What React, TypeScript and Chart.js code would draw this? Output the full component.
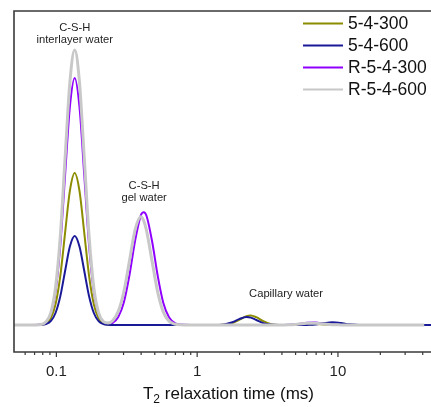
import React, { useEffect, useRef } from "react";
import { Chart, registerables } from "chart.js";

Chart.register(...registerables);

// T2 relaxation time grid (ms)
const T2_MS = [
  0.05, 0.065, 0.078, 0.0843, 0.0912, 0.0986, 0.1067, 0.1153, 0.1247, 0.1349,
  0.1459, 0.1578, 0.1706, 0.1845, 0.1995, 0.2158, 0.2333, 0.251, 0.275, 0.302,
  0.331, 0.363, 0.398, 0.417, 0.437, 0.479, 0.525, 0.575, 0.631, 0.692,
  0.759, 0.9, 1.1, 1.41, 1.58, 1.78, 2.0, 2.24, 2.4, 2.63,
  2.95, 3.31, 3.8, 4.47, 5.25, 6.03, 6.92, 7.94, 9.12, 10.5,
  12.0, 14.1, 16.6, 25, 41, 46,
];

const SERIES_LABELS = ["5-4-300", "5-4-600", "R-5-4-300", "R-5-4-600"];
const SERIES_COLORS = ["#8c8c00", "#1a1a99", "#9000ff", "#c8c8c8"];

const AMP_5_4_300 = [
  0, 0, 0.03, 0.17, 0.67, 2.06, 4.94, 9.22, 13.41, 15.2,
  13.41, 9.22, 4.94, 2.06, 0.67, 0.17, 0.03, 0, 0, 0,
  0, 0, 0, 0, 0, 0, 0, 0, 0, 0,
  0, 0, 0, 0.01, 0.04, 0.19, 0.53, 0.89, 0.95, 0.78,
  0.39, 0.11, 0.01, 0, 0.01, 0.05, 0.09, 0.06, 0.02, 0,
  0, 0, 0, 0, 0, 0,
];

const AMP_5_4_600 = [
  0, 0, 0.02, 0.1, 0.39, 1.2, 2.89, 5.4, 7.85, 8.9,
  7.85, 5.4, 2.89, 1.2, 0.39, 0.1, 0.02, 0, 0, 0,
  0, 0, 0, 0, 0, 0, 0, 0, 0, 0,
  0, 0, 0, 0.01, 0.08, 0.28, 0.61, 0.8, 0.74, 0.5,
  0.19, 0.04, 0, 0, 0, 0.01, 0.05, 0.18, 0.27, 0.2,
  0.07, 0.01, 0, 0, 0, 0,
];

const AMP_R_5_4_300 = [
  0, 0, 0.05, 0.27, 1.08, 3.34, 8.02, 14.98, 21.8, 24.7,
  21.8, 14.98, 8.02, 3.34, 1.08, 0.28, 0.11, 0.22, 0.81, 2.31,
  5.05, 8.49, 10.97, 11.27, 10.9, 8.32, 4.89, 2.2, 0.77, 0.2,
  0.04, 0, 0, 0, 0, 0, 0, 0, 0, 0,
  0, 0, 0, 0.03, 0.11, 0.22, 0.24, 0.15, 0.05, 0.01,
  0, 0, 0, 0, 0, 0,
];

const AMP_R_5_4_600 = [
  0, 0, 0.06, 0.31, 1.21, 3.72, 8.93, 16.68, 24.27, 27.5,
  24.27, 16.68, 8.93, 3.72, 1.21, 0.34, 0.2, 0.43, 1.36, 3.38,
  6.48, 9.56, 10.83, 10.44, 9.43, 6.32, 3.25, 1.29, 0.39, 0.09,
  0.02, 0, 0, 0, 0, 0, 0, 0, 0, 0,
  0, 0, 0, 0.02, 0.09, 0.17, 0.17, 0.1, 0.03, 0.01,
  0, 0, 0, 0, 0, null,
];

const X_TICKS = [0.1, 1, 10];
const X_MINOR_TICKS = [
  0.06, 0.07, 0.08, 0.09, 0.2, 0.3, 0.4, 0.5, 0.6, 0.7, 0.8, 0.9,
  2, 3, 4, 5, 6, 7, 8, 9, 20, 30, 40,
];

const X_TITLE_MAIN = "T";
const X_TITLE_SUB = "2";
const X_TITLE_REST = " relaxation time (ms)";

const ANNOTATION_TEXT = [
  ["C-S-H", "interlayer water"],
  ["C-S-H", "gel water"],
  ["Capillary water"],
];
const ANNOTATION_T2 = [0.135, 0.42, 4.28];
const ANNOTATION_TOP_AMP = [29.7, 13.9, 3.1];

const FONT = "'Liberation Sans', Arial, Helvetica, sans-serif";

const decorPlugin = {
  id: "decor",
  afterDatasetsDraw(chart: any) {
    const { ctx, chartArea: a, scales } = chart;
    const xs = scales.x;
    const ys = scales.y;
    ctx.save();
    // frame (left, top, bottom)
    ctx.strokeStyle = "#3a3a3a";
    ctx.lineWidth = 1.6;
    ctx.beginPath();
    ctx.moveTo(a.right + 2, a.top);
    ctx.lineTo(a.left, a.top);
    ctx.lineTo(a.left, a.bottom);
    ctx.lineTo(a.right + 2, a.bottom);
    ctx.stroke();
    // ticks
    ctx.lineWidth = 1.2;
    ctx.beginPath();
    X_TICKS.forEach((v) => {
      const px = xs.getPixelForValue(v);
      ctx.moveTo(px, a.bottom);
      ctx.lineTo(px, a.bottom + 5);
    });
    X_MINOR_TICKS.forEach((v) => {
      const px = xs.getPixelForValue(v);
      ctx.moveTo(px, a.bottom);
      ctx.lineTo(px, a.bottom + 3);
    });
    ctx.stroke();

    // axis title with subscript
    ctx.fillStyle = "#111";
    ctx.textBaseline = "alphabetic";
    ctx.textAlign = "left";
    const mainFont = `17px ${FONT}`;
    const subFont = `12px ${FONT}`;
    ctx.font = mainFont;
    const wMain = ctx.measureText(X_TITLE_MAIN).width;
    const wRest = ctx.measureText(X_TITLE_REST).width;
    ctx.font = subFont;
    const wSub = ctx.measureText(X_TITLE_SUB).width;
    const total = wMain + wSub + wRest;
    const cx = (a.left + a.right) / 2 + 6;
    const base = a.bottom + 47;
    let tx = cx - total / 2;
    ctx.font = mainFont;
    ctx.fillText(X_TITLE_MAIN, tx, base);
    tx += wMain;
    ctx.font = subFont;
    ctx.fillText(X_TITLE_SUB, tx, base + 4);
    tx += wSub;
    ctx.font = mainFont;
    ctx.fillText(X_TITLE_REST, tx, base);

    // annotations
    ctx.fillStyle = "#222";
    ctx.font = `11.2px ${FONT}`;
    ctx.textAlign = "center";
    ctx.textBaseline = "middle";
    ANNOTATION_TEXT.forEach((lines, i) => {
      const px = xs.getPixelForValue(ANNOTATION_T2[i]);
      const py = ys.getPixelForValue(ANNOTATION_TOP_AMP[i]);
      lines.forEach((t, j) => ctx.fillText(t, px, py + j * 12));
    });

    // legend
    ctx.font = `17.5px ${FONT}`;
    ctx.textAlign = "left";
    SERIES_LABELS.forEach((label, i) => {
      const yy = a.top + 12.5 + i * 22;
      ctx.strokeStyle = SERIES_COLORS[i];
      ctx.lineWidth = i === 3 ? 2 : 1.8;
      ctx.beginPath();
      ctx.moveTo(a.right - 128, yy);
      ctx.lineTo(a.right - 88, yy);
      ctx.stroke();
      ctx.fillStyle = "#111";
      ctx.fillText(label, a.right - 83, yy + 0.5);
    });
    ctx.restore();
  },
};

export default function App() {
  const ref = useRef<HTMLCanvasElement | null>(null);

  useEffect(() => {
    const canvas = ref.current;
    if (!canvas) return;
    const amps = [AMP_5_4_300, AMP_5_4_600, AMP_R_5_4_300, AMP_R_5_4_600];
    const orders = [2, 1, 3, 0];
    const widths = [2, 2, 2, 3];
    const chart = new Chart(canvas, {
      type: "line",
      data: {
        datasets: SERIES_LABELS.map((label, i) => ({
          label,
          data: T2_MS.map((t, k) => ({ x: t, y: amps[i][k] })),
          borderColor: SERIES_COLORS[i],
          backgroundColor: SERIES_COLORS[i],
          borderWidth: widths[i],
          pointRadius: 0,
          cubicInterpolationMode: "monotone" as const,
          fill: false,
          order: orders[i],
        })),
      },
      options: {
        animation: false,
        responsive: false,
        devicePixelRatio: 1,
        layout: { padding: { left: 14, top: 11, right: 0, bottom: 0 } },
        plugins: {
          legend: { display: false },
          tooltip: { enabled: false },
        },
        scales: {
          x: {
            type: "logarithmic",
            min: 0.05,
            max: 45.8,
            grid: { display: false, drawTicks: false },
            border: { display: false },
            afterBuildTicks: (scale: any) => {
              scale.ticks = X_TICKS.map((v) => ({ value: v }));
            },
            afterFit: (scale: any) => {
              scale.height = 55;
            },
            ticks: {
              autoSkip: false,
              maxRotation: 0,
              padding: 11,
              color: "#222",
              font: { family: FONT, size: 15 },
              callback: (v: any) => String(v),
            },
            title: { display: false },
          },
          y: {
            display: false,
            min: -2.7,
            max: 31.4,
          },
        },
      },
      plugins: [decorPlugin],
    });
    return () => chart.destroy();
  }, []);

  return (
    <div style={{ position: "absolute", left: 0, top: 0, width: 431, height: 407, background: "#fff" }}>
      <canvas ref={ref} width={431} height={407} style={{ display: "block" }} />
    </div>
  );
}
